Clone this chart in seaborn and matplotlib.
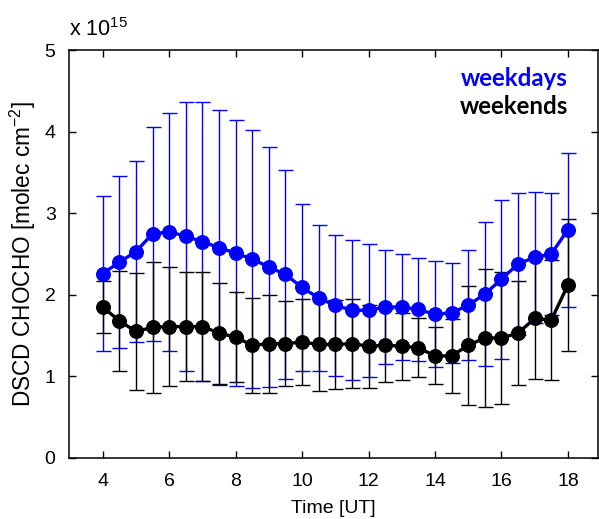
import numpy as np
import pandas as pd
import matplotlib
matplotlib.use("Agg")
import matplotlib.pyplot as plt
import seaborn as sns

# Time of day [UT]
time_ut = [4.0, 4.5, 5.0, 5.5, 6.0, 6.5, 7.0, 7.5, 8.0, 8.5, 9.0, 9.5, 10.0, 10.5,
           11.0, 11.5, 12.0, 12.5, 13.0, 13.5, 14.0, 14.5, 15.0, 15.5, 16.0, 16.5,
           17.0, 17.5, 18.0]

# DSCD CHOCHO in units of 1e15 molec cm^-2
weekdays_mean = [2.26, 2.40, 2.53, 2.75, 2.77, 2.72, 2.65, 2.58, 2.51, 2.44, 2.34, 2.25,
                 2.09, 1.96, 1.87, 1.81, 1.81, 1.85, 1.85, 1.82, 1.76, 1.78, 1.87, 2.01,
                 2.19, 2.38, 2.46, 2.50, 2.80]
weekdays_std = [0.955, 1.055, 1.11, 1.315, 1.46, 1.65, 1.71, 1.685, 1.63, 1.58, 1.47, 1.285,
                1.025, 0.90, 0.865, 0.86, 0.815, 0.695, 0.655, 0.635, 0.65, 0.615, 0.675,
                0.885, 0.975, 0.87, 0.805, 0.745, 0.945]

weekends_mean = [1.85, 1.68, 1.55, 1.60, 1.61, 1.61, 1.61, 1.53, 1.48, 1.38, 1.40, 1.40,
                 1.42, 1.39, 1.39, 1.40, 1.37, 1.38, 1.37, 1.35, 1.25, 1.25, 1.38, 1.47,
                 1.47, 1.53, 1.71, 1.69, 2.12]
weekends_std = [0.315, 0.615, 0.715, 0.805, 0.73, 0.67, 0.67, 0.62, 0.55, 0.58, 0.60, 0.52,
                0.53, 0.575, 0.545, 0.545, 0.51, 0.45, 0.41, 0.36, 0.35, 0.45, 0.73, 0.845,
                0.81, 0.64, 0.74, 0.74, 0.81]

x_ticks = [4, 6, 8, 10, 12, 14, 16, 18]
y_ticks = [0, 1, 2, 3, 4, 5]

sns.set_style("white")
plt.rcParams['font.family'] = ['Liberation Sans', 'DejaVu Sans']
plt.rcParams['mathtext.fontset'] = 'custom'
plt.rcParams['mathtext.rm'] = 'Liberation Sans'
plt.rcParams['mathtext.it'] = 'Liberation Sans'

fig = plt.figure(figsize=(5.99, 5.19), dpi=100)
ax = fig.add_axes([0.116, 0.118, 0.882, 0.785])

df = pd.DataFrame({
    "time": time_ut * 2,
    "value": weekdays_mean + weekends_mean,
    "std": weekdays_std + weekends_std,
    "group": ["weekdays"] * len(time_ut) + ["weekends"] * len(time_ut),
})
colors = {"weekdays": "#0000ff", "weekends": "#000000"}

for g in ["weekdays", "weekends"]:
    sub = df[df["group"] == g]
    ax.errorbar(sub["time"], sub["value"], yerr=sub["std"], fmt="none",
                ecolor=colors[g], elinewidth=1.0, capsize=5.4, capthick=1.0, zorder=2)
    sns.lineplot(data=sub, x="time", y="value", color=colors[g], marker="o",
                 markersize=10, markeredgecolor=colors[g], linewidth=2.4,
                 ax=ax, legend=False, zorder=3, estimator=None)

ax.set_xlim(3.0, 18.9)
ax.set_ylim(0, 5)
ax.set_xticks(x_ticks)
ax.set_yticks(y_ticks)
ax.set_xticklabels([str(t) for t in x_ticks])
ax.set_yticklabels([str(t) for t in y_ticks])
ax.tick_params(direction="in", length=5, width=1, labelsize=14, colors="black",
               labelcolor="black", top=True, right=True, left=True, bottom=True)
ax.tick_params(axis="x", pad=11)
ax.tick_params(axis="y", pad=10)
for s in ax.spines.values():
    s.set_visible(True)
    s.set_color("black")
    s.set_linewidth(1.1)

ax.set_xlabel("Time [UT]", fontsize=14, labelpad=7, color="black")
ax.set_ylabel(r"DSCD CHOCHO [molec cm$^{-2}$]", fontsize=16.3, labelpad=5, color="black")

fig.text(0.116, 0.943, r"x 10$^{15}$", fontsize=15.5, ha="left", va="center", color="black")

ax.text(18.0, 4.66, "weekdays", color="#0000ff", fontsize=17.3, fontweight="bold",
        family="Lato", ha="right", va="center")
ax.text(18.0, 4.31, "weekends", color="black", fontsize=17.3, fontweight="bold",
        family="Lato", ha="right", va="center")

fig.savefig("out.png", dpi=100, facecolor="white")
